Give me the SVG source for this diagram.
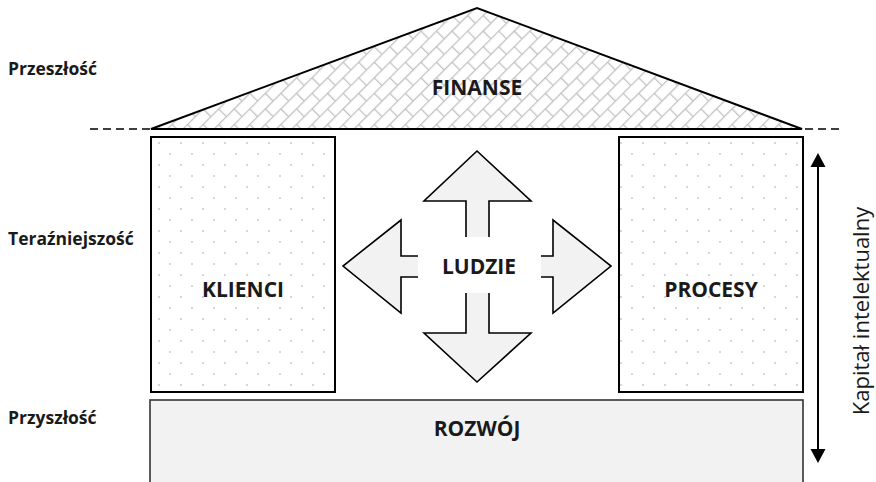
<svg xmlns="http://www.w3.org/2000/svg" width="876" height="482" viewBox="0 0 876 482">
  <style>
    .lbl { font-family: "Open Sans", "Liberation Sans", sans-serif; font-weight: bold; fill: #1a1a1a; }
    .main { font-size: 21px; text-anchor: middle; }
    .side { font-size: 17.5px; }
    .box { fill: url(#dots); stroke: #000; stroke-width: 2; }
  </style>
  <defs>
    <pattern id="dots" width="22" height="22" patternUnits="userSpaceOnUse" x="151" y="137">
      <rect width="22" height="22" fill="#fff"/>
      <circle cx="8" cy="6" r="0.9" fill="#c4c4c4"/>
      <circle cx="19" cy="17" r="0.9" fill="#c4c4c4"/>
    </pattern>
    <pattern id="brick" width="22" height="22" patternUnits="userSpaceOnUse" patternTransform="rotate(-45)">
      <rect width="22" height="22" fill="#fff"/>
      <g stroke="#c2c2c2" stroke-width="1.3" fill="none">
        <line x1="0" y1="0.6" x2="22" y2="0.6"/>
        <line x1="0" y1="11.6" x2="22" y2="11.6"/>
        <line x1="0.6" y1="0" x2="0.6" y2="11"/>
        <line x1="11.6" y1="11" x2="11.6" y2="22"/>
      </g>
    </pattern>
  </defs>

  <g id="time-labels">
    <text class="lbl side" x="8" y="75">Przeszłość</text>
    <text class="lbl side" x="8" y="245">Teraźniejszość</text>
    <text class="lbl side" x="8" y="424">Przyszłość</text>
  </g>

  <g id="rozwoj">
    <rect x="150" y="400" width="653" height="95" fill="#f2f2f2" stroke="#333" stroke-width="1.6"/>
    <text class="lbl main" x="477" y="436">ROZWÓJ</text>
  </g>

  <g id="finanse">
    <line x1="90" y1="129" x2="842" y2="129" stroke="#000" stroke-width="1.6" stroke-dasharray="8 5"/>
    <polygon points="151,129 477,8 802,129" fill="url(#brick)" stroke="#000" stroke-width="2" stroke-linejoin="miter"/>
    <text class="lbl main" x="477" y="95">FINANSE</text>
  </g>

  <g id="klienci">
    <rect class="box" x="151" y="137" width="184" height="255"/>
    <text class="lbl main" x="243" y="297">KLIENCI</text>
  </g>

  <g id="procesy">
    <rect class="box" x="619" y="137" width="184" height="255"/>
    <text class="lbl main" x="711" y="297">PROCESY</text>
  </g>

  <g id="ludzie">
    <polygon points="477,151 531,201 489,201 489,256 553,256 553,220 611,266 553,313 553,277 489,277 489,333 531,333 477,382 424,333 466,333 466,277 401,277 401,313 343,266 401,220 401,256 466,256 466,201 424,201" fill="#f2f2f2" stroke="#000" stroke-width="1.6" stroke-linejoin="miter"/>
    <rect x="418" y="237" width="123" height="56" fill="#fff"/>
    <text class="lbl main" x="479" y="274">LUDZIE</text>
  </g>

  <g id="connectors">
    <line x1="818" y1="162" x2="818" y2="454" stroke="#000" stroke-width="2"/>
    <polygon points="818,153 810.5,167 825.5,167" fill="#000"/>
    <polygon points="818,463 810.5,449 825.5,449" fill="#000"/>
  </g>

  <g id="kapital">
    <text transform="translate(869,311) rotate(-90)" text-anchor="middle" font-family="Open Sans, Liberation Sans, sans-serif" font-size="22" fill="#1a1a1a">Kapitał intelektualny</text>
  </g>
</svg>
